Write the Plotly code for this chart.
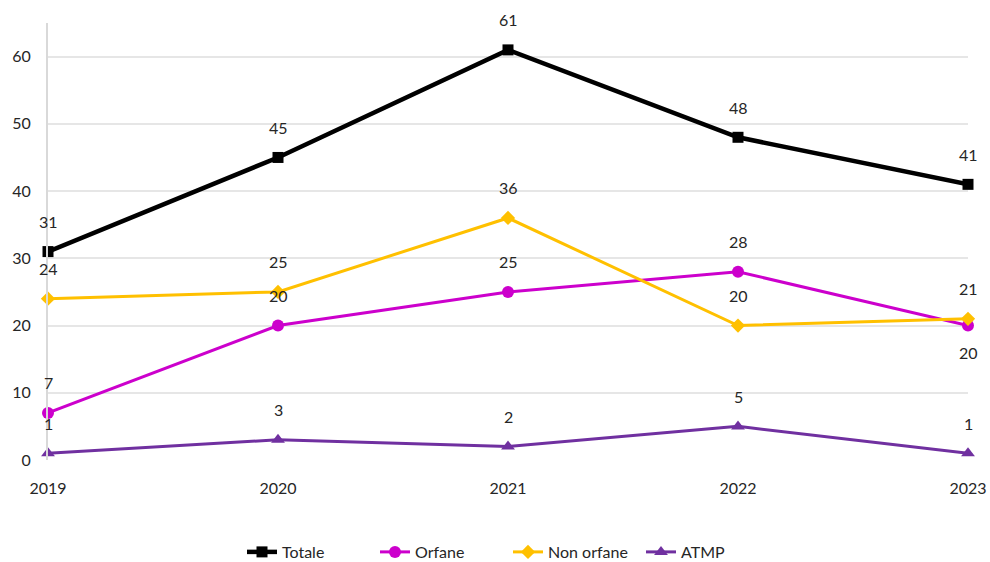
import plotly.graph_objects as go

years = [2019, 2020, 2021, 2022, 2023]
totale = [31, 45, 61, 48, 41]
orfane = [7, 20, 25, 28, 20]
non_orfane = [24, 25, 36, 20, 21]
atmp = [1, 3, 2, 5, 1]

# label placement (above / below) per series
orfane_pos = ["top", "top", "top", "top", "bottom"]

series = [
    ("Totale", totale, "#000000", "square", 11, 4.5, ["top"] * 5),
    ("Orfane", orfane, "#CC00CC", "circle", 12, 3, orfane_pos),
    ("Non orfane", non_orfane, "#FFC000", "diamond", 11, 3, ["top"] * 5),
    ("ATMP", atmp, "#7030A0", "triangle-up", 12, 3, ["top"] * 5),
]

fig = go.Figure()
annotations = []
for name, vals, color, sym, msize, lw, pos in series:
    fig.add_trace(go.Scatter(
        x=years, y=vals, name=name, mode="lines+markers",
        line=dict(color=color, width=lw),
        marker=dict(symbol=sym, size=msize, color=color),
        cliponaxis=False,
    ))
    for x, v, p in zip(years, vals, pos):
        annotations.append(dict(
            x=x, y=v, xref="x", yref="y", text=str(v), showarrow=False,
            yshift=30 if p == "top" else -27,
            font=dict(size=16, color="#262626"),
        ))

fig.update_layout(
    width=990, height=562,
    margin=dict(l=48, r=22, t=23, b=102, autoexpand=False),
    paper_bgcolor="white", plot_bgcolor="white",
    font=dict(family="Lato, Liberation Sans, sans-serif", size=16, color="#262626"),
    showlegend=True,
    legend=dict(orientation="h", x=0.5, xanchor="center", y=-0.2105, yanchor="middle",
                font=dict(size=16), tracegroupgap=0, entrywidth=88),
    annotations=annotations,
    xaxis=dict(range=[2019, 2023], tickvals=years, ticktext=[str(y) for y in years],
               showgrid=False, zeroline=False, automargin=False,
               showline=False, ticks="", tickfont=dict(size=16),
               ticklabelstandoff=17),
    yaxis=dict(range=[0, 65], tick0=0, dtick=10, showgrid=True, gridcolor="#E6E6E6",
               gridwidth=1.5, zeroline=False, showline=True, linecolor="#D9D9D9",
               linewidth=2, ticks="", tickfont=dict(size=16), automargin=False,
               ticklabelstandoff=12),
)

fig.write_html(
    "out.html",
    config={"displayModeBar": False},
    post_script="document.body.style.margin='0';document.body.style.overflow='hidden';",
)
